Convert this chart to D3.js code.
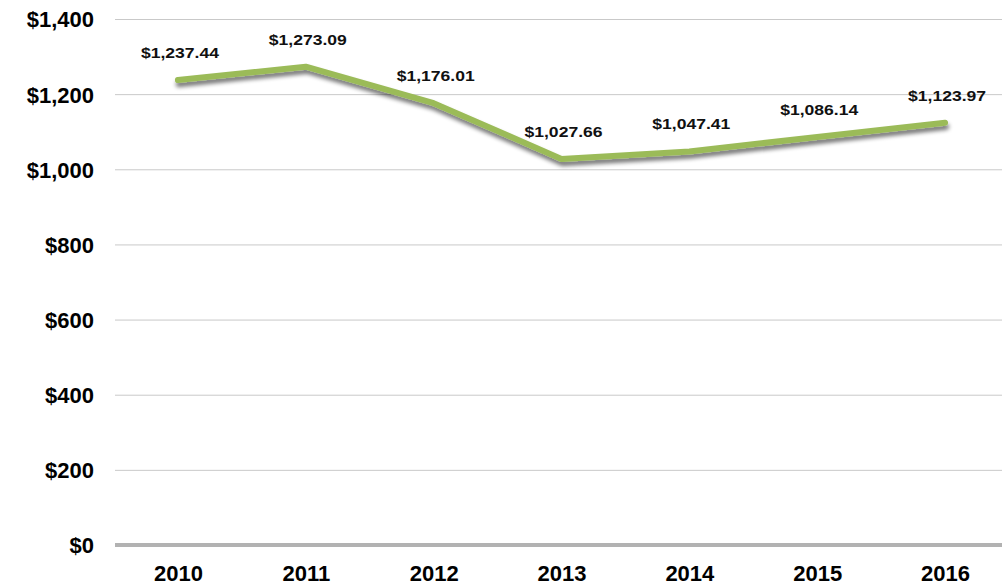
<!DOCTYPE html>
<html>
<head>
<meta charset="utf-8">
<script src="https://cdn.jsdelivr.net/npm/d3@7.9.0/dist/d3.min.js"></script>
<style>
  html, body { margin: 0; padding: 0; background: #fff; }
  svg { display: block; font-family: "Liberation Sans", Arial, sans-serif; }
  .axis text { font-weight: bold; font-size: 22px; fill: #000; }
  .axis path { display: none; }
  .grid line { stroke: #c9c9c9; stroke-width: 1px; }
  .grid path { display: none; }
  .label { font-weight: bold; font-size: 15px; fill: #111; }
</style>
</head>
<body>
<svg id="chart" width="1002" height="585"></svg>
<script>
// Chart data
const years = ['2010', '2011', '2012', '2013', '2014', '2015', '2016'];
const values = [1237.44, 1273.09, 1176.01, 1027.66, 1047.41, 1086.14, 1123.97];
const yTicks = [0, 200, 400, 600, 800, 1000, 1200, 1400];

const svg = d3.select('#chart');

let x = d3.scalePoint().domain(years).range([114, 1009]).padding(0.5);
let y = d3.scaleLinear().domain([0, 1400]).range([545, 19]);

// drop shadow for the line
let defs = svg.append('defs');
let shadow = defs.append('filter').attr('id', 'shadow')
  .attr('x', '-10%').attr('y', '-50%').attr('width', '120%').attr('height', '200%');
shadow.append('feGaussianBlur').attr('in', 'SourceAlpha').attr('stdDeviation', 2.2);
shadow.append('feOffset').attr('dx', 1).attr('dy', 4).attr('result', 'blur');
shadow.append('feComponentTransfer').append('feFuncA').attr('type', 'linear').attr('slope', 0.55);
let merge = shadow.append('feMerge');
merge.append('feMergeNode');
merge.append('feMergeNode').attr('in', 'SourceGraphic');

// gridlines
svg.append('g')
  .attr('class', 'grid')
  .attr('transform', 'translate(115,0)')
  .call(d3.axisLeft(y).tickValues(yTicks.filter((d) => d > 0)).tickSize(-900).tickFormat(''));

// baseline
svg.append('line')
  .attr('x1', 115).attr('x2', 1002)
  .attr('y1', y(0)).attr('y2', y(0))
  .attr('stroke', '#b2b2b2').attr('stroke-width', 4);

// y axis labels
let yAxis = svg.append('g')
  .attr('class', 'axis')
  .attr('transform', 'translate(94,0)')
  .call(d3.axisLeft(y).tickValues(yTicks).tickSize(0).tickPadding(0).tickFormat(d3.format('$,')));
yAxis.selectAll('text').attr('dy', '0.36em');

// x axis labels
let xAxis = svg.append('g')
  .attr('class', 'axis')
  .attr('transform', 'translate(0,581)')
  .call(d3.axisBottom(x).tickSize(0).tickPadding(0));
xAxis.selectAll('text').attr('dy', 0).attr('y', 0);

// line
let line = d3.line()
  .x((d, i) => x(years[i]))
  .y((d) => y(d));

svg.append('path')
  .datum(values)
  .attr('d', line)
  .attr('fill', 'none')
  .attr('stroke', '#9bbb59')
  .attr('stroke-width', 6)
  .attr('stroke-linecap', 'round')
  .attr('stroke-linejoin', 'round')
  .attr('filter', 'url(#shadow)');

// data labels
let fmt = d3.format('$,.2f');
values.forEach((v, i) => {
  svg.append('text')
    .attr('class', 'label')
    .attr('text-anchor', 'middle')
    .attr('transform', `translate(${x(years[i]) + 2},${y(v) - 22}) scale(1.17,1)`)
    .text(fmt(v));
});
</script>
</body>
</html>
